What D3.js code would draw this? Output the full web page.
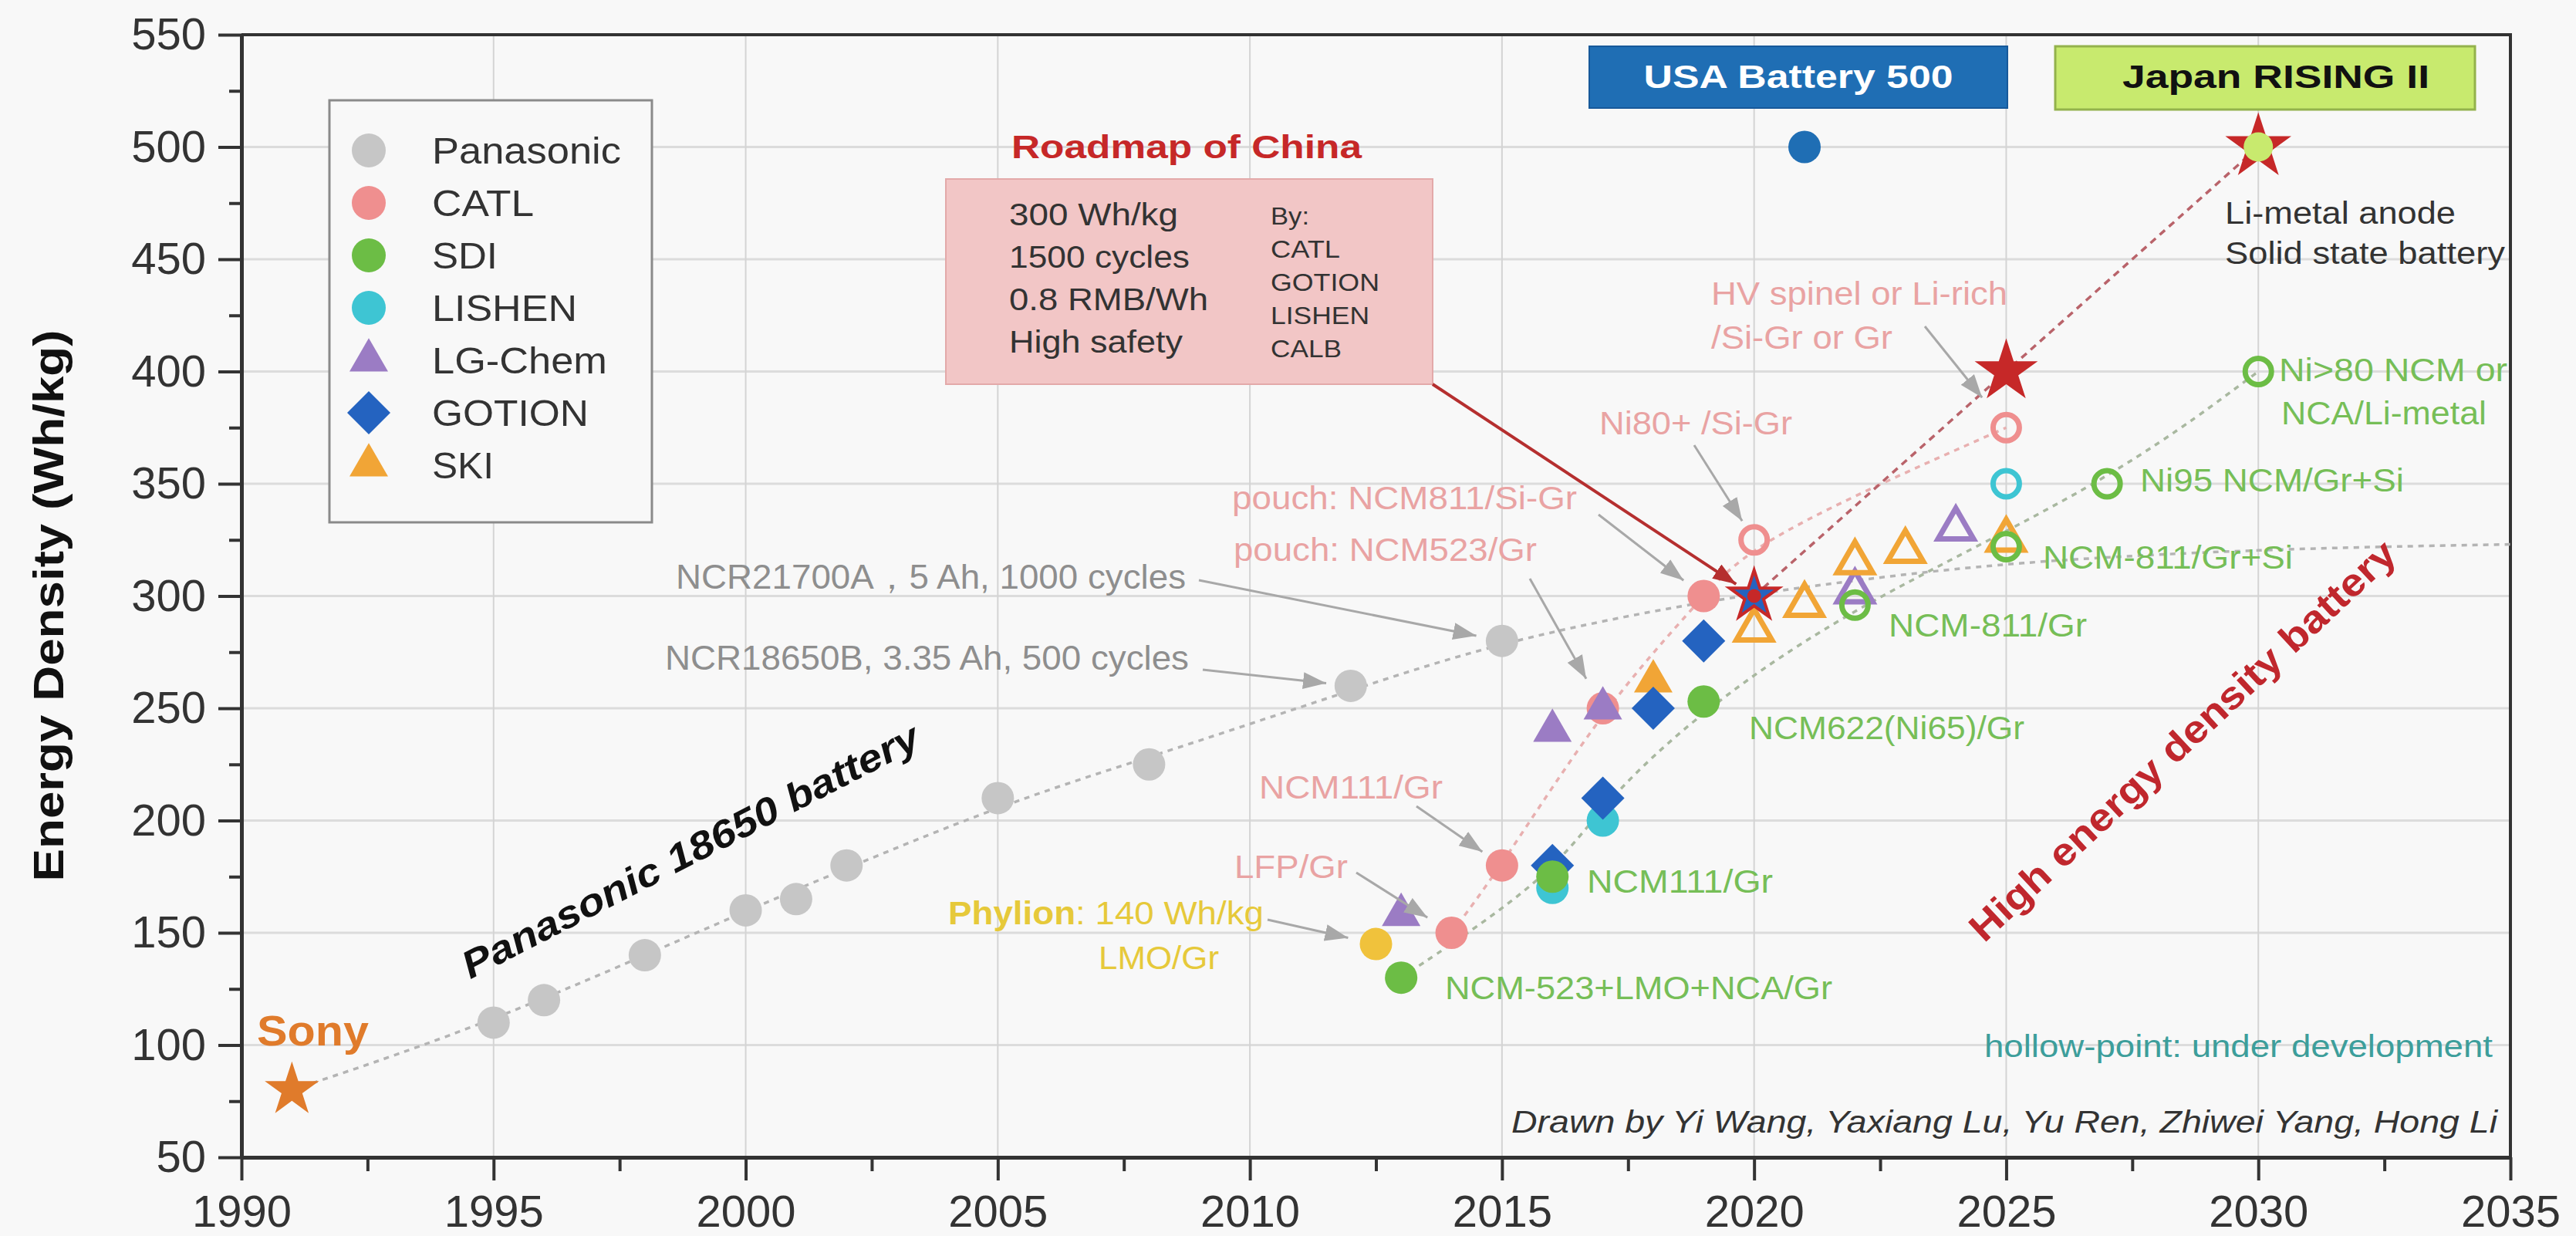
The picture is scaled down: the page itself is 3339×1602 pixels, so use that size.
<!DOCTYPE html>
<html><head><meta charset="utf-8">
<script src="https://cdn.jsdelivr.net/npm/d3@7"></script>
<style>
html,body{margin:0;padding:0;background:#f8f8f8;}
svg{display:block;font-family:"Liberation Sans",Arial,Helvetica,sans-serif;}
</style></head><body>
<svg id="chart" width="3339" height="1602"></svg>
<script>
// ---------------- DATA ----------------
const yTicks = [50,100,150,200,250,300,350,400,450,500,550];
const xTicks = [1990,1995,2000,2005,2010,2015,2020,2025,2030,2035];
const panasonicYear  = [1995,1996,1998,2000,2001,2002,2005,2008,2012,2015];
const panasonicValue = [110,120,140,160,165,180,210,225,260,280];
const catlFilled   = [[2014,150],[2015,180],[2017,250],[2019,300]];
const catlHollow   = [[2020,325],[2025,375]];
const lgFilled     = [[2013,158],[2016,240],[2017,250]];
const lgHollow     = [[2022,302],[2024,330]];
const skiFilled    = [[2018,262]];
const skiHollow    = [[2020,285],[2021,296],[2022,315],[2023,320],[2025,325]];
const lishenFilled = [[2016,170],[2017,200]];
const lishenHollow = [[2025,350]];
const gotionFilled = [[2016,180],[2017,210],[2018,250],[2019,280]];
const sdiFilled    = [[2013,130],[2016,175],[2019,253]];
const sdiHollow    = [[2022,296],[2025,322],[2027,350],[2030,400]];
const phylionPoint = [[2012.5,145]];
const sonyPoint    = [[1991,80]];
const usaPoint     = [[2021,500]];
const chinaRoadmap = [[2020,300],[2025,400],[2030,500]];
const trendPanasonic = [[1991,80],[1995,110],[2000,160],[2005,207],[2008,228],[2012,258],[2015,280],[2019,298],[2022,307],[2025,315],[2030,321],[2035,323]];
const trendCatl   = [[2014,150],[2015,180],[2017,250],[2019,300],[2020,325],[2025,375]];
const trendSdi    = [[2013,130],[2016,175],[2017,208],[2019,250],[2022,296],[2027,350],[2030,400]];
const legendNames  = ["Panasonic","CATL","SDI","LISHEN","LG-Chem","GOTION","SKI"];
const legendColors = ["#C6C6C6","#EF8F8F","#6CBD45","#3EC5D3","#9B7CC4","#2463C0","#F1A536"];
const legendShapes = ["circle","circle","circle","circle","triangle","diamond","triangle"];

// ---------------- SETUP ----------------
const svg = d3.select("#chart");
const x = d3.scaleLinear().domain([1990,2035]).range([313,3254]);
const y = d3.scaleLinear().domain([50,550]).range([1500,45]);
const C = {pan:"#C6C6C6",catl:"#EF8F8F",sdi:"#6CBD45",lishen:"#3EC5D3",lg:"#9B7CC4",gotion:"#2463C0",ski:"#F1A536",
  phylion:"#F0C23C",sony:"#E07B2B",red:"#C62828",usa:"#1F6EB4",japan:"#C8EA6E"};
const pinkT="#E9A3A3", greenT="#76BE57", grayT="#8E8E8E";

svg.append("rect").attr("width",3339).attr("height",1602).attr("fill","#f8f8f8");

const defs = svg.append("defs");
function mk(id,color){
  defs.append("marker").attr("id",id).attr("markerUnits","userSpaceOnUse")
    .attr("markerWidth",30).attr("markerHeight",22).attr("refX",30).attr("refY",11).attr("orient","auto")
    .append("path").attr("d","M0,0 L30,11 L0,22 Z").attr("fill",color);
}
mk("ag","#A8A8A8"); mk("ar","#B52F2F");

// gridlines
const grid = svg.append("g");
grid.selectAll(".hg").data(yTicks.slice(1,-1)).join("line")
  .attr("x1",x(1990)).attr("x2",x(2035)).attr("y1",d=>y(d)).attr("y2",d=>y(d))
  .attr("stroke","#dcdcdc").attr("stroke-width",3);
grid.selectAll(".vg").data(xTicks.slice(1,-1)).join("line")
  .attr("y1",y(50)).attr("y2",y(550)).attr("x1",d=>x(d)).attr("x2",d=>x(d))
  .attr("stroke","#d4d4d4").attr("stroke-width",2);

// frame
svg.append("line").attr("x1",x(1990)).attr("x2",x(2035)+2).attr("y1",y(550)).attr("y2",y(550)).attr("stroke","#333").attr("stroke-width",4);
svg.append("line").attr("x1",x(2035)).attr("x2",x(2035)).attr("y1",y(550)).attr("y2",y(50)).attr("stroke","#333").attr("stroke-width",4);

// axes
function styleAxis(g){ g.selectAll("path").attr("stroke","#333").attr("stroke-width",5);
  g.selectAll("line").attr("stroke","#333").attr("stroke-width",4);
  g.selectAll("text").attr("fill","#333").attr("font-size",58).attr("font-family","Liberation Sans, Arial, sans-serif"); }
const yMinor = svg.append("g").attr("transform",`translate(${x(1990)},0)`)
  .call(d3.axisLeft(y).tickValues(d3.range(75,550,50)).tickSize(16).tickFormat("").tickSizeOuter(0));
styleAxis(yMinor);
const yAxis = svg.append("g").attr("transform",`translate(${x(1990)},0)`)
  .call(d3.axisLeft(y).tickValues(yTicks).tickSize(30).tickPadding(16).tickSizeOuter(0).tickFormat(d3.format("d")));
styleAxis(yAxis);
const xMinor = svg.append("g").attr("transform",`translate(0,${y(50)})`)
  .call(d3.axisBottom(x).tickValues(d3.range(1992.5,2035,5)).tickSize(18).tickFormat("").tickSizeOuter(0));
styleAxis(xMinor);
const xAxis = svg.append("g").attr("transform",`translate(0,${y(50)})`)
  .call(d3.axisBottom(x).tickValues(xTicks).tickSize(30).tickPadding(19).tickSizeOuter(0).tickFormat(d3.format("d")));
styleAxis(xAxis);

// text helper
function T(xp,yp,s,o={}){
  const t = svg.append("text").attr("x",xp).attr("y",yp).text(s)
    .attr("font-size",o.size||43).attr("fill",o.color||"#333")
    .attr("font-weight",o.bold?"bold":"normal").attr("font-style",o.italic?"italic":"normal")
    .attr("text-anchor",o.anchor||"start");
  if(o.tl){ t.attr("textLength",o.tl).attr("lengthAdjust","spacingAndGlyphs"); }
  if(o.rot!==undefined){ t.attr("transform",`rotate(${o.rot},${xp},${yp})`).attr("dominant-baseline","central"); }
  return t;
}

// y title
T(62,785,"Energy Density (Wh/kg)",{size:56,bold:true,color:"#111",anchor:"middle",rot:-90,tl:715});

// trend lines
const line = d3.line().x(d=>x(d[0])).y(d=>y(d[1])).curve(d3.curveBasis);
const trends = svg.append("g").attr("fill","none").attr("stroke-width",3.5).attr("stroke-dasharray","7,7");
trends.append("path").attr("d",line(trendPanasonic)).attr("stroke","#B4B4B4");
trends.append("path").attr("d",line(trendCatl)).attr("stroke","#E8B0B0");
trends.append("path").attr("d",line(trendSdi)).attr("stroke","#A9B8A0");
trends.append("path").attr("d",d3.line().x(d=>x(d[0])).y(d=>y(d[1]))(chinaRoadmap))
  .attr("stroke","#B9636A").attr("stroke-dasharray","9,7");

// markers
const SY = {circle:d3.symbolCircle, triangle:d3.symbolTriangle, diamond:d3.symbolSquare, star:d3.symbolStar};
const FS = {circle:1385, triangle:1082, diamond:1568};
const HS = {circle:908, triangle:916, diamond:1100};
function draw(data, shape, color, hollow){
  svg.append("g").selectAll("path").data(data).join("path")
    .attr("d", d3.symbol().type(SY[shape]).size(hollow?HS[shape]:FS[shape])())
    .attr("transform", d=>`translate(${x(d[0])},${y(d[1])})${shape==="diamond"?" rotate(45)":""}`)
    .attr("fill", hollow?"none":color).attr("stroke", hollow?color:"none").attr("stroke-width", hollow?7:0);
}
function star(pt, R, color){
  svg.append("path").attr("d", d3.symbol().type(d3.symbolStar).size(R*R/0.8908130915292852)())
    .attr("transform",`translate(${x(pt[0])},${y(pt[1])})`).attr("fill",color);
}
draw(panasonicYear.map((yr,i)=>[yr,panasonicValue[i]]),"circle",C.pan,false);
draw(phylionPoint,"circle",C.phylion,false);
draw(catlFilled,"circle",C.catl,false); draw(catlHollow,"circle",C.catl,true);
draw(lgFilled,"triangle",C.lg,false); draw(lgHollow,"triangle",C.lg,true);
draw(skiFilled,"triangle",C.ski,false); draw(skiHollow,"triangle",C.ski,true);
draw(lishenFilled,"circle",C.lishen,false); draw(lishenHollow,"circle",C.lishen,true);
draw(gotionFilled,"diamond",C.gotion,false);
draw(sdiFilled,"circle",C.sdi,false); draw(sdiHollow,"circle",C.sdi,true);
draw(usaPoint,"circle",C.usa,false);
star(sonyPoint[0],37,C.sony);
star(chinaRoadmap[0],40,C.red); star(chinaRoadmap[0],27,C.gotion);
svg.append("circle").attr("cx",x(chinaRoadmap[0][0])).attr("cy",y(chinaRoadmap[0][1])).attr("r",9).attr("fill",C.red);
star(chinaRoadmap[1],43,C.red);
star(chinaRoadmap[2],45,C.red);
svg.append("circle").attr("cx",x(chinaRoadmap[2][0])).attr("cy",y(chinaRoadmap[2][1])).attr("r",19).attr("fill",C.japan);

// legend
const lg = svg.append("g");
lg.append("rect").attr("x",427).attr("y",130).attr("width",418).attr("height",547)
  .attr("fill","#f8f8f8").attr("stroke","#8a8a8a").attr("stroke-width",3);
const legTL = [245,132,85,188,227,203,80];
legendNames.forEach((n,i)=>{
  const cy = 195 + i*68;
  const sz = {circle:1520, triangle:1082, diamond:1568}[legendShapes[i]];
  lg.append("path").attr("d",d3.symbol().type(SY[legendShapes[i]]).size(sz)())
    .attr("transform",`translate(478,${cy})${legendShapes[i]==="diamond"?" rotate(45)":""}`)
    .attr("fill",legendColors[i]);
  T(560,cy+17,n,{size:48,color:"#333",tl:legTL[i]});
});

// China roadmap box
svg.append("rect").attr("x",1226).attr("y",232).attr("width",631).attr("height",266)
  .attr("fill","#F2C6C6").attr("stroke","#E3A9A9").attr("stroke-width",2);
T(1311,205,"Roadmap of China",{size:42,bold:true,color:C.red,tl:454});
[["300 Wh/kg",219],["1500 cycles",234],["0.8 RMB/Wh",258],["High safety",225]].forEach((r,i)=>
  T(1308,292+i*55,r[0],{size:40,color:"#333",tl:r[1]}));
[["By:",50],["CATL",90],["GOTION",141],["LISHEN",128],["CALB",92]].forEach((r,i)=>
  T(1647,291+i*43,r[0],{size:31,color:"#333",tl:r[1]}));

// USA / Japan boxes
svg.append("rect").attr("x",2060).attr("y",60).attr("width",542).attr("height",80).attr("fill",C.usa).attr("stroke","#17599A").attr("stroke-width",2);
T(2331,114,"USA Battery 500",{size:42,bold:true,color:"#fff",anchor:"middle",tl:401});
svg.append("rect").attr("x",2664).attr("y",60).attr("width",544).attr("height",82).attr("fill",C.japan).attr("stroke","#93B24C").attr("stroke-width",3);
T(2950,114,"Japan RISING II",{size:42,bold:true,color:"#111",anchor:"middle",tl:398});

// annotations
T(2884,290,"Li-metal anode",{size:40,color:"#333",tl:299});
T(2884,342,"Solid state battery",{size:40,color:"#333",tl:363});
T(2218,395,"HV spinel or Li-rich",{size:43,color:pinkT,tl:384});
T(2218,452,"/Si-Gr or Gr",{size:43,color:pinkT,tl:235});
T(2073,563,"Ni80+ /Si-Gr",{size:43,color:pinkT,tl:250});
T(1597,660,"pouch: NCM811/Si-Gr",{size:43,color:pinkT,tl:447});
T(1599,727,"pouch: NCM523/Gr",{size:43,color:pinkT,tl:393});
T(876,763,"NCR21700A，5 Ah, 1000 cycles",{size:44,color:grayT,tl:661});
T(862,868,"NCR18650B, 3.35 Ah, 500 cycles",{size:44,color:grayT,tl:679});
T(1632,1035,"NCM111/Gr",{size:43,color:pinkT,tl:238});
T(1600,1138,"LFP/Gr",{size:43,color:pinkT,tl:147});
const ph = T(1229,1198,"",{size:43,color:"#E6C93A",tl:409});
ph.append("tspan").attr("font-weight","bold").text("Phylion");
ph.append("tspan").text(": 140 Wh/kg");
T(1424,1256,"LMO/Gr",{size:43,color:"#E6C93A",tl:156});
T(2057,1157,"NCM111/Gr",{size:43,color:greenT,tl:241});
T(1873,1295,"NCM-523+LMO+NCA/Gr",{size:43,color:greenT,tl:502});
T(2267,958,"NCM622(Ni65)/Gr",{size:43,color:greenT,tl:357});
T(2448,825,"NCM-811/Gr",{size:43,color:greenT,tl:257});
T(2648,737,"NCM-811/Gr+Si",{size:43,color:greenT,tl:324});
T(2774,637,"Ni95 NCM/Gr+Si",{size:43,color:greenT,tl:342});
T(2954,494,"Ni>80 NCM or",{size:43,color:greenT,tl:296});
T(2957,550,"NCA/Li-metal",{size:43,color:greenT,tl:266});
T(333,1355,"Sony",{size:56,bold:true,color:C.sony,tl:145});
T(895,1103,"Panasonic 18650 battery",{size:50,bold:true,italic:true,color:"#111",anchor:"middle",rot:-27.3,tl:660});
T(2829,960,"High energy density battery",{size:50,bold:true,color:"#C0272D",anchor:"middle",rot:-43,tl:735});
T(3231,1370,"hollow-point: under development",{size:40,color:"#3D9E9B",anchor:"end",tl:659});
T(3237,1468,"Drawn by Yi Wang, Yaxiang Lu, Yu Ren, Zhiwei Yang, Hong Li",{size:40,italic:true,color:"#333",anchor:"end",tl:1278});

// arrows
function arrow(x0,y0,pt,gap,mid,color,w){
  const cx=x(pt[0]), cy=y(pt[1]); const dx=cx-x0, dy=cy-y0, L=Math.hypot(dx,dy);
  svg.append("line").attr("x1",x0).attr("y1",y0).attr("x2",cx-dx/L*gap).attr("y2",cy-dy/L*gap)
    .attr("stroke",color).attr("stroke-width",w).attr("marker-end",`url(#${mid})`);
}
const G="#A8A8A8";
arrow(1554,752,[2015,280],34,"ag",G,3);
arrow(1559,868,[2012,260],32,"ag",G,3);
arrow(2072,667,catlFilled[3],33,"ag",G,3);
arrow(1983,750,catlFilled[2],44,"ag",G,3);
arrow(2196,577,catlHollow[0],29,"ag",G,3);
arrow(2495,423,catlHollow[1],50,"ag",G,3);
arrow(1836,1045,catlFilled[1],31,"ag",G,3);
arrow(1758,1131,catlFilled[0],37,"ag",G,3);
arrow(1643,1192,phylionPoint[0],37,"ag",G,3);
arrow(1857,498,chinaRoadmap[0],28,"ar","#B52F2F",4);
</script></body></html>
